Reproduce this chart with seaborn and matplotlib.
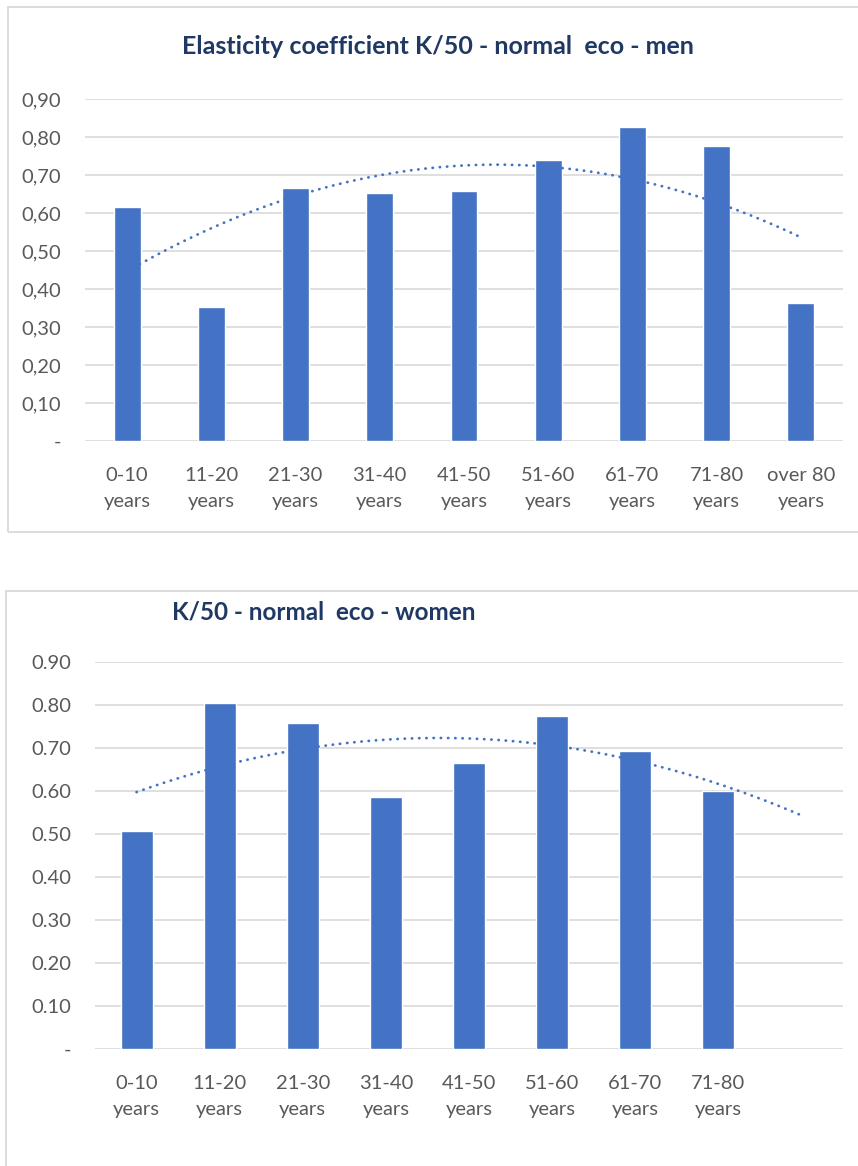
import numpy as np
import pandas as pd
import matplotlib
matplotlib.use("Agg")
import matplotlib.pyplot as plt
from matplotlib.patches import Rectangle
import seaborn as sns

# Age groups and elasticity coefficients K/50 (normal eco)
age_groups = ["0-10\nyears", "11-20\nyears", "21-30\nyears", "31-40\nyears",
              "41-50\nyears", "51-60\nyears", "61-70\nyears", "71-80\nyears",
              "over 80\nyears"]
men_values = [0.615, 0.352, 0.666, 0.653, 0.658, 0.739, 0.827, 0.777, 0.362]

women_groups = ["0-10\nyears", "11-20\nyears", "21-30\nyears", "31-40\nyears",
                "41-50\nyears", "51-60\nyears", "61-70\nyears", "71-80\nyears"]
women_values = [0.507, 0.805, 0.757, 0.585, 0.664, 0.775, 0.694, 0.600]
women_slots = women_groups + [""]  # empty ninth category, trend runs into it

y_ticks = [0.0, 0.1, 0.2, 0.3, 0.4, 0.5, 0.6, 0.7, 0.8, 0.9]
men_tick_labels = ["-", "0,10", "0,20", "0,30", "0,40", "0,50", "0,60", "0,70", "0,80", "0,90"]
women_tick_labels = ["-", "0.10", "0.20", "0.30", "0.40", "0.50", "0.60", "0.70", "0.80", "0.90"]

BAR = "#4472C4"
GRID = "#D9D9D9"
TICK = "#595959"
TITLE = "#1F3864"

sns.set_theme(style="white")
plt.rcParams["font.family"] = ["Lato", "DejaVu Sans"]

W, H = 858, 1166
fig = plt.figure(figsize=(W / 100, H / 100), dpi=100)


def px_axes(x0, y_top, x1, y_bot):
    return fig.add_axes([x0 / W, 1 - y_bot / H, (x1 - x0) / W, (y_bot - y_top) / H])


def style(ax, labels, ticklabels, n_slots):
    ax.set_ylim(0, 0.9)
    ax.set_xlim(-0.5, n_slots - 0.5)
    ax.set_yticks(y_ticks)
    ax.set_yticklabels(ticklabels)
    ax.set_xticks(range(n_slots))
    ax.set_xticklabels(labels, linespacing=1.65)
    ax.set_xlabel("")
    ax.set_ylabel("")
    for s in ax.spines.values():
        s.set_visible(False)
    ax.grid(axis="y", color=GRID, linewidth=1.2, zorder=0)
    ax.set_axisbelow(True)
    ax.tick_params(axis="y", length=0, pad=17, labelsize=14.5, labelcolor=TICK)
    ax.tick_params(axis="x", length=0, pad=19, labelsize=14.5, labelcolor=TICK)


def trend(ax, values, n_slots):
    x = np.arange(len(values))
    coef = np.polyfit(x, values, 2)
    xs = np.linspace(0, n_slots - 1, 200)
    ax.plot(xs, np.polyval(coef, xs), color=BAR, linewidth=2.0,
            linestyle=(0, (0.1, 2.5)), dash_capstyle="round", zorder=3)


# Panel frames
fig.add_artist(Rectangle((8 / W, 1 - 532 / H), 860 / W, 525 / H, transform=fig.transFigure,
                         fill=False, edgecolor=GRID, linewidth=1.3))
fig.add_artist(Rectangle((6 / W, 1 - 1180 / H), 860 / W, 589 / H, transform=fig.transFigure,
                         fill=False, edgecolor=GRID, linewidth=1.3))

# Men
ax1 = px_axes(85, 99, 843, 441)
df_m = pd.DataFrame({"age": age_groups, "value": men_values})
sns.barplot(data=df_m, x="age", y="value", order=age_groups, color=BAR,
            saturation=1, width=0.32, ax=ax1, zorder=2)
style(ax1, age_groups, men_tick_labels, len(age_groups))
trend(ax1, men_values, len(age_groups))
fig.text(438 / W, 1 - 47 / H, "Elasticity coefficient K/50 - normal  eco - men",
         ha="center", va="center", fontsize=18, fontweight="bold", color=TITLE)

# Women
ax2 = px_axes(95, 662, 843, 1049)
df_w = pd.DataFrame({"age": women_groups, "value": women_values})
sns.barplot(data=df_w, x="age", y="value", order=women_groups, color=BAR,
            saturation=1, width=0.385, ax=ax2, zorder=2)
style(ax2, women_slots, women_tick_labels, len(women_slots))
trend(ax2, women_values, len(women_slots))
fig.text(172 / W, 1 - 612 / H, "K/50 - normal  eco - women",
         ha="left", va="center", fontsize=17.5, fontweight="bold", color=TITLE)

fig.savefig("out.png", dpi=100, facecolor="white")
